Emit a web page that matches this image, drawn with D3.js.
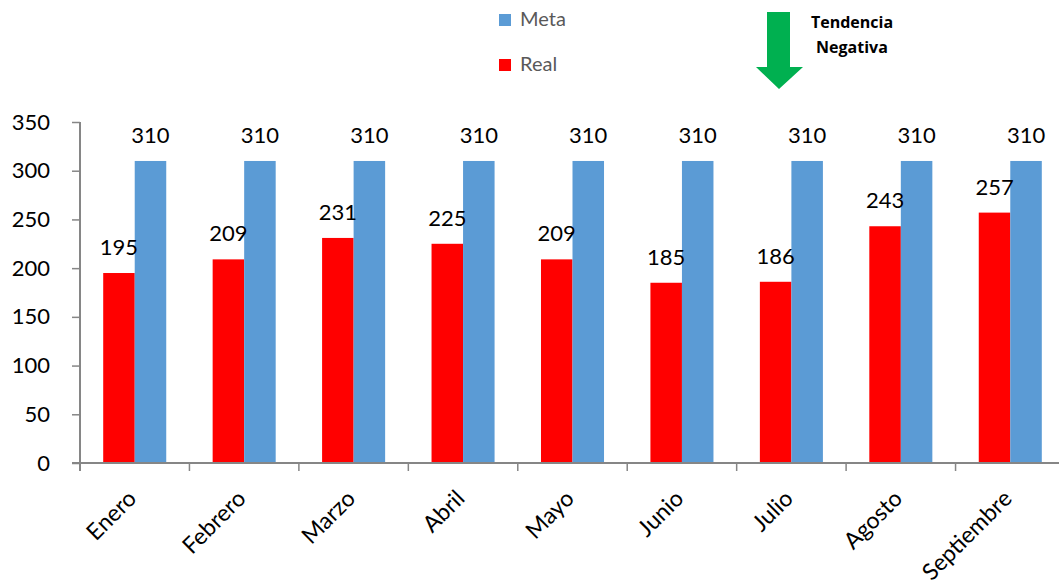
<!DOCTYPE html>
<html lang="es">
<head>
<meta charset="UTF-8">
<title>Real vs Meta</title>
<style>
  body { margin: 0; background: #fff; }
  text { font-family: Lato, "Open Sans", sans-serif; }
</style>
</head>
<body>
<svg id="chart" width="1059" height="584"></svg>
<script src="https://cdn.jsdelivr.net/npm/d3@7"></script>
<script>
// data
const months = ["Enero", "Febrero", "Marzo", "Abril", "Mayo", "Junio", "Julio", "Agosto", "Septiembre"]
const real = [195, 209, 231, 225, 209, 185, 186, 243, 257]
const meta = [310, 310, 310, 310, 310, 310, 310, 310, 310]
const yTicks = [0, 50, 100, 150, 200, 250, 300, 350]
const seriesNames = ["Real", "Meta"]
const seriesColors = ["#ff0000", "#5b9bd5"]

const svg = d3.select("#chart")
const axisColor = "#868686"

let x0 = d3.scaleBand().domain(months).range([80, 1065]).paddingInner(0).paddingOuter(0)
let inner = d3.scaleBand().domain(months).range([80, 1065]).paddingInner(0.424).paddingOuter(0.212)
let x1 = d3.scaleBand().domain(seriesNames).range([0, inner.bandwidth()])
let y = d3.scaleLinear().domain([0, 350]).range([463, 122])
let color = d3.scaleOrdinal().domain(seriesNames).range(seriesColors)

let rows = months.map((m, i) => ({ month: m, Real: real[i], Meta: meta[i] }))

// bars
let groups = svg.append("g").selectAll("g")
  .data(rows)
  .enter()
  .append("g")
  .attr("transform", d => `translate(${inner(d.month)},0)`)

groups.selectAll("rect")
  .data(d => seriesNames.map(s => ({ key: s, value: d[s] })))
  .enter()
  .append("rect")
  .attr("x", d => x1(d.key))
  .attr("y", d => y(d.value))
  .attr("width", x1.bandwidth())
  .attr("height", d => y(0) - y(d.value))
  .attr("fill", d => color(d.key))

groups.selectAll("text.val")
  .data(d => seriesNames.map(s => ({ key: s, value: d[s] })))
  .enter()
  .append("text")
  .attr("class", "val")
  .attr("x", d => x1(d.key) + x1.bandwidth() / 2)
  .attr("y", d => y(d.value) - 18)
  .attr("text-anchor", "middle")
  .attr("font-size", 22)
  .attr("fill", "#000")
  .text(d => d.value)

// y axis
let yAxis = svg.append("g")
  .attr("transform", "translate(80,0)")
  .call(d3.axisLeft(y).tickValues(yTicks).tickSize(8).tickPadding(22))
yAxis.select(".domain").attr("stroke", axisColor).attr("stroke-width", 2).attr("d", "M0,122V471")
yAxis.selectAll(".tick line").attr("stroke", axisColor).attr("stroke-width", 1.5)
yAxis.selectAll(".tick text").attr("font-size", 22).attr("fill", "#000")

// x axis
let xAxis = svg.append("g")
  .attr("transform", "translate(0,463)")
  .call(d3.axisBottom(x0).tickSize(0).tickFormat(""))
xAxis.select(".domain").attr("stroke", axisColor).attr("stroke-width", 2).attr("d", "M72,0H1065")
svg.append("g").selectAll("line")
  .data(months)
  .enter()
  .append("line")
  .attr("x1", d => x0(d))
  .attr("x2", d => x0(d))
  .attr("y1", 463)
  .attr("y2", 471)
  .attr("stroke", axisColor)
  .attr("stroke-width", 1.5)

svg.append("g").selectAll("text")
  .data(months)
  .enter()
  .append("text")
  .attr("transform", d => `translate(${x0(d) + x0.bandwidth() / 2 + 3},500) rotate(-45)`)
  .attr("text-anchor", "end")
  .attr("font-size", 23)
  .attr("fill", "#000")
  .text(d => d)

// legend
let legend = svg.append("g").selectAll("g")
  .data(["Meta", "Real"])
  .enter()
  .append("g")
  .attr("transform", (d, i) => `translate(499,${14 + i * 45})`)
legend.append("rect").attr("width", 12).attr("height", 12).attr("fill", d => color(d))
legend.append("text").attr("x", 21).attr("y", 12).attr("font-size", 20).attr("fill", "#595959").text(d => d)

// tendencia arrow
svg.append("path")
  .attr("d", "M767,12H790V67H803L779,89L756,67H767Z")
  .attr("fill", "#00b050")
svg.append("text")
  .attr("x", 852).attr("y", 28)
  .attr("text-anchor", "middle").attr("font-size", 16).attr("font-weight", "bold")
  .style("font-family", "'Open Sans', sans-serif")
  .text("Tendencia")
svg.append("text")
  .attr("x", 852).attr("y", 53)
  .attr("text-anchor", "middle").attr("font-size", 16).attr("font-weight", "bold")
  .style("font-family", "'Open Sans', sans-serif")
  .text("Negativa")
</script>
</body>
</html>
